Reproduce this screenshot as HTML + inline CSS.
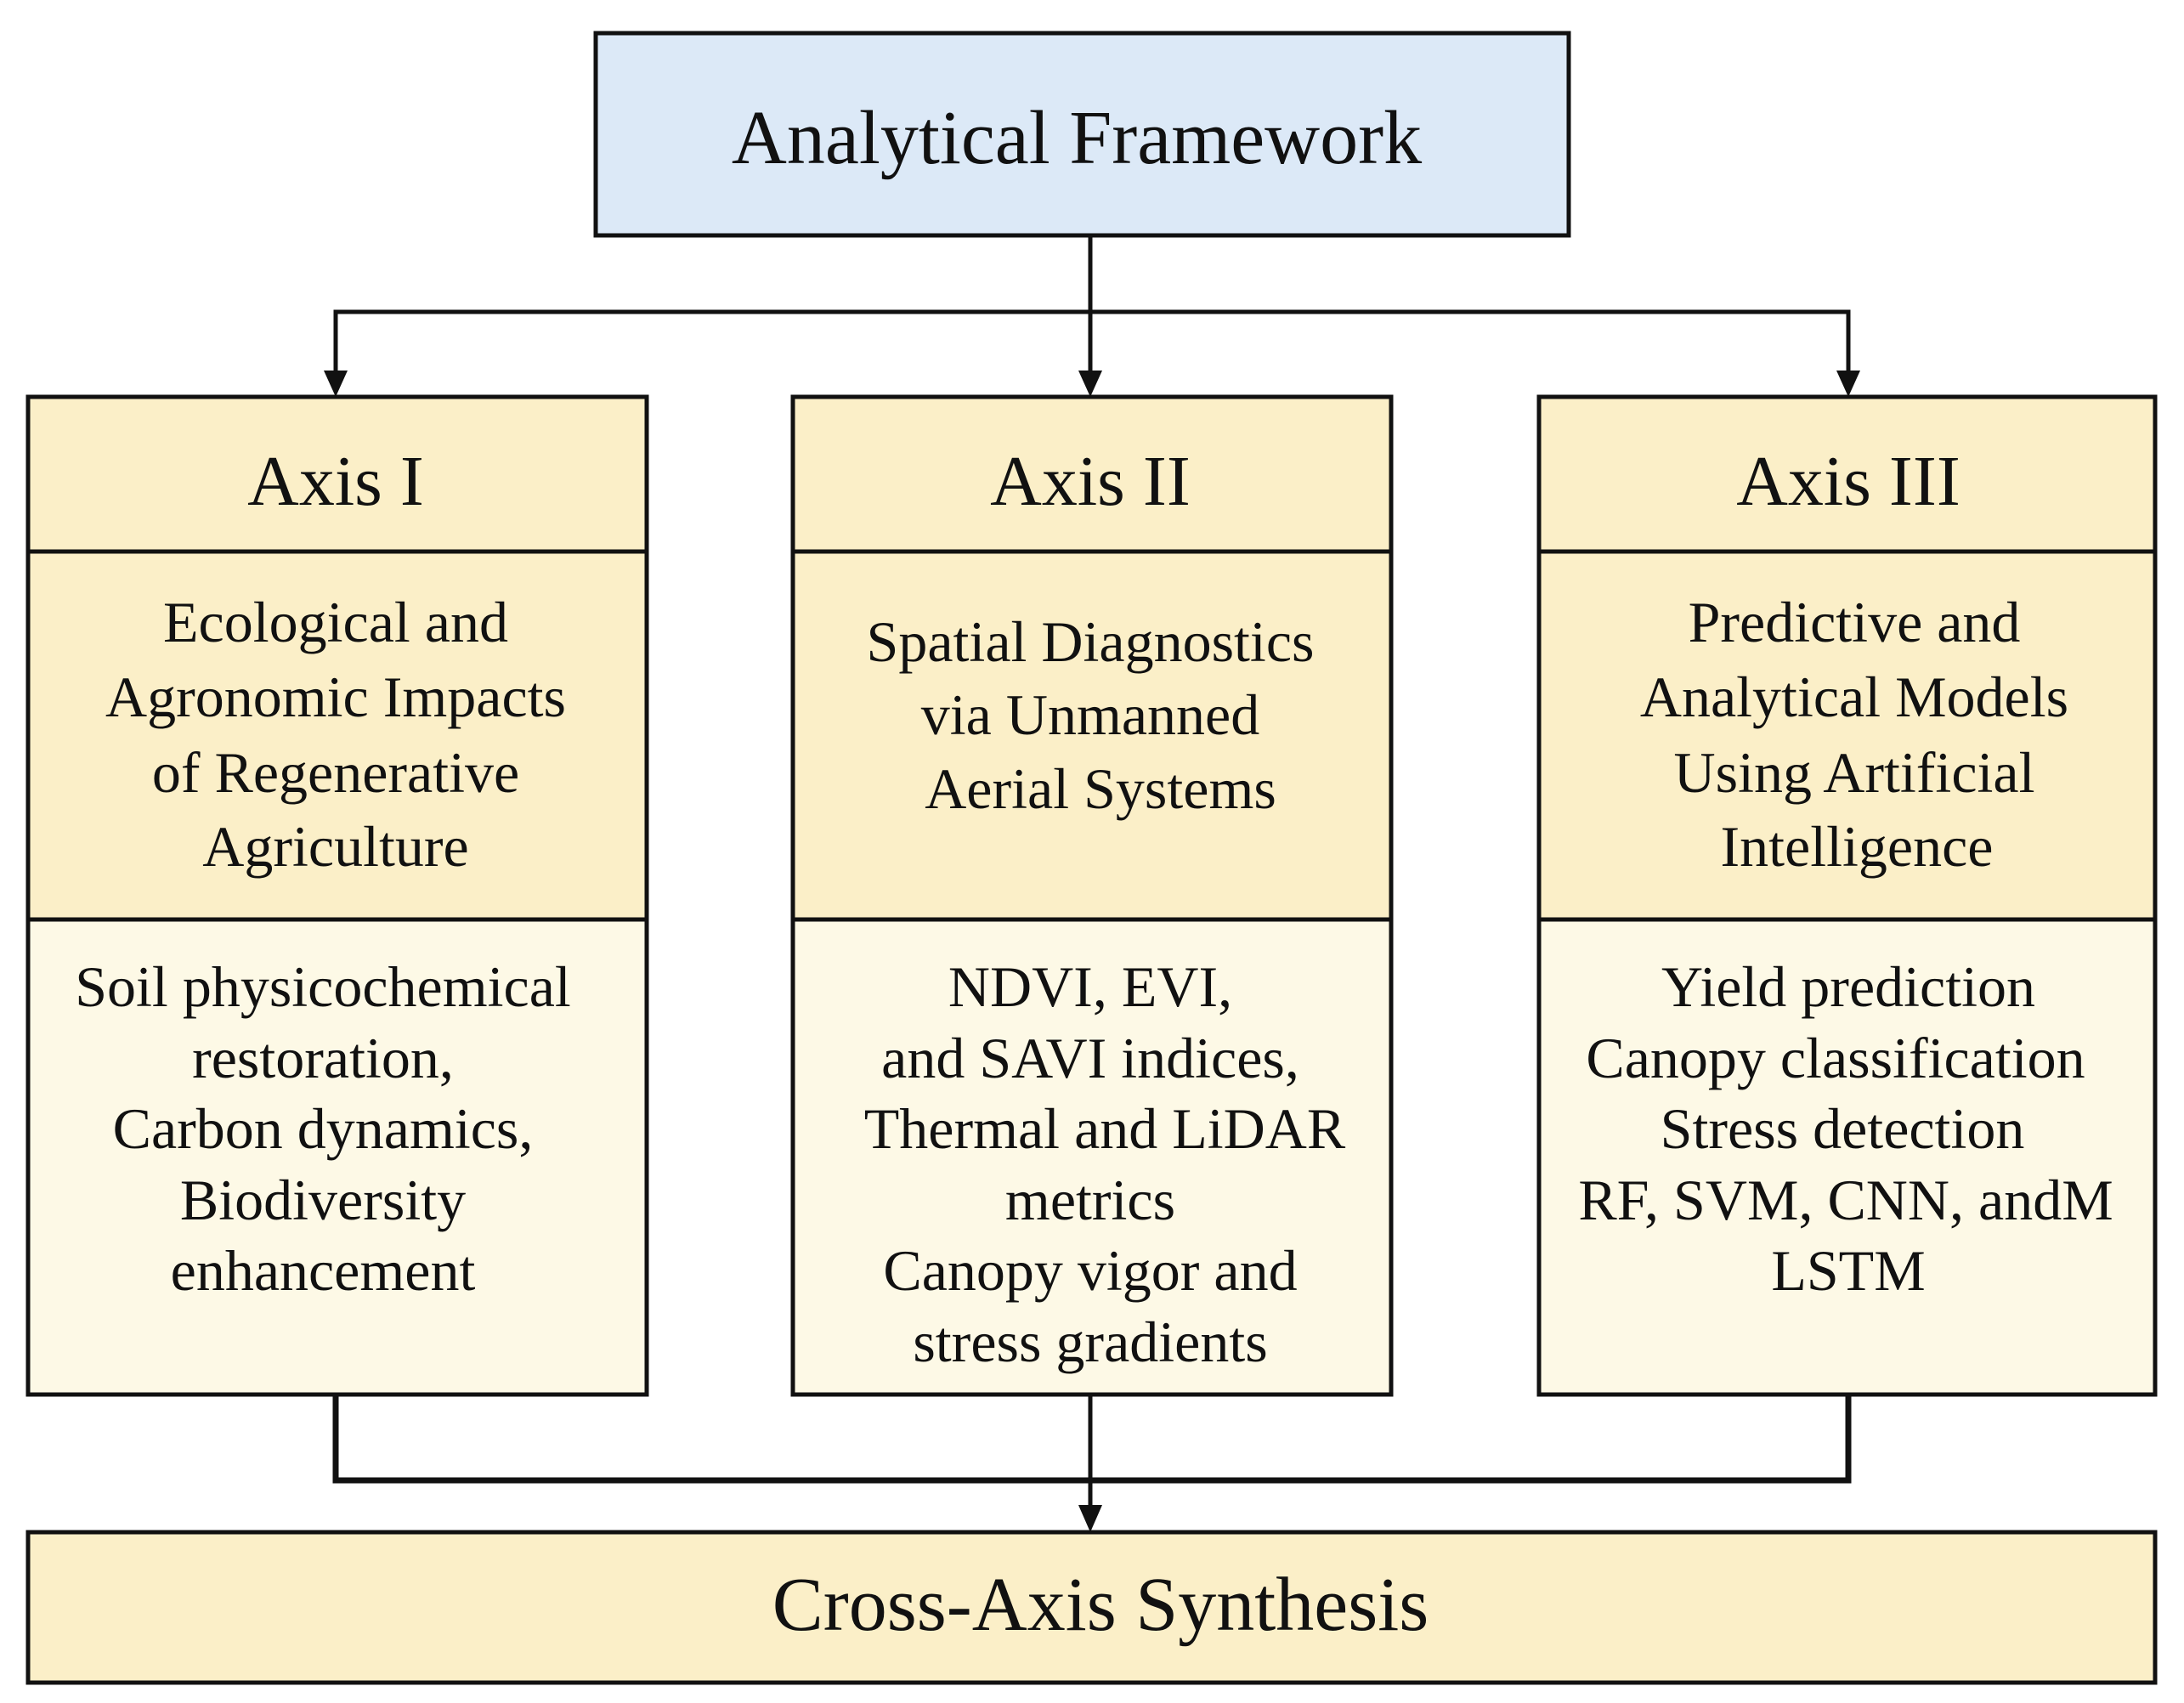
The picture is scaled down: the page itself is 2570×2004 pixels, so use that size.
<!DOCTYPE html>
<html><head><meta charset="utf-8"><style>html,body{margin:0;padding:0;background:#fff}svg{display:block}</style></head>
<body>
<svg width="2570" height="2004" viewBox="0 0 2570 2004" xmlns="http://www.w3.org/2000/svg" font-family="'Liberation Serif', serif" fill="#111">
<defs><marker id="a" markerWidth="10" markerHeight="12" refX="5" refY="12" orient="auto" markerUnits="userSpaceOnUse"><path d="M0,0 L0,0"/></marker></defs>
<g stroke="#111" stroke-width="5" fill="none">
<rect x="701" y="39" width="1145" height="238" fill="#dce9f7"/>
<line x1="1283" y1="277" x2="1283" y2="440"/>
<polyline points="395,440 395,367 2175,367 2175,440"/>
<line x1="1283" y1="367" x2="1283" y2="440"/>
<rect x="33" y="467" width="728" height="1174" fill="#fdf9e6"/>
<rect x="933" y="467" width="704" height="1174" fill="#fdf9e6"/>
<rect x="1811" y="467" width="725" height="1174" fill="#fdf9e6"/>
<rect x="33" y="467" width="728" height="615" fill="#fbefc8"/>
<rect x="933" y="467" width="704" height="615" fill="#fbefc8"/>
<rect x="1811" y="467" width="725" height="615" fill="#fbefc8"/>
<line x1="33" y1="649" x2="761" y2="649"/><line x1="933" y1="649" x2="1637" y2="649"/><line x1="1811" y1="649" x2="2536" y2="649"/>
<polyline points="395,1641 395,1742 2175,1742 2175,1641" stroke-width="7"/>
<line x1="1283" y1="1641" x2="1283" y2="1775"/>
<rect x="33" y="1803" width="2503" height="177" fill="#fbefc8"/>
</g>
<g fill="#111">
<path d="M381,436 L409,436 L395,467 Z"/><path d="M1269,436 L1297,436 L1283,467 Z"/><path d="M2161,436 L2189,436 L2175,467 Z"/>
<path d="M1269,1771 L1297,1771 L1283,1803 Z"/>
</g>
<g text-anchor="middle">
<text x="1267" y="192" font-size="90">Analytical Framework</text>
<text x="1295" y="1918" font-size="90">Cross-Axis Synthesis</text>
<g font-size="84"><text x="395" y="594">Axis I</text><text x="1283" y="594">Axis II</text><text x="2175" y="594">Axis III</text></g>
<g font-size="68">
<text x="395" y="755">Ecological and</text><text x="395" y="843">Agronomic Impacts</text><text x="395" y="932">of Regenerative</text><text x="395" y="1019">Agriculture</text>
<text x="1283" y="778">Spatial Diagnostics</text><text x="1283" y="864">via Unmanned</text><text x="1295" y="951">Aerial Systems</text>
<text x="2182" y="755">Predictive and</text><text x="2182" y="843">Analytical Models</text><text x="2182" y="932">Using Artificial</text><text x="2185" y="1019">Intelligence</text>
<text x="380" y="1184">Soil physicochemical</text><text x="380" y="1268">restoration,</text><text x="380" y="1351">Carbon dynamics,</text><text x="380" y="1435">Biodiversity</text><text x="380" y="1518">enhancement</text>
<text x="1283" y="1184">NDVI, EVI,</text><text x="1283" y="1268">and SAVI indices,</text><text x="1300" y="1351">Thermal and LiDAR</text><text x="1283" y="1435">metrics</text><text x="1283" y="1518">Canopy vigor and</text><text x="1283" y="1602">stress gradients</text>
<text x="2175" y="1184">Yield prediction</text><text x="2160" y="1268">Canopy classification</text><text x="2168" y="1351">Stress detection</text><text x="2172" y="1435">RF, SVM, CNN, andM</text><text x="2175" y="1518">LSTM</text>
</g></g>
</svg>
</body></html>
